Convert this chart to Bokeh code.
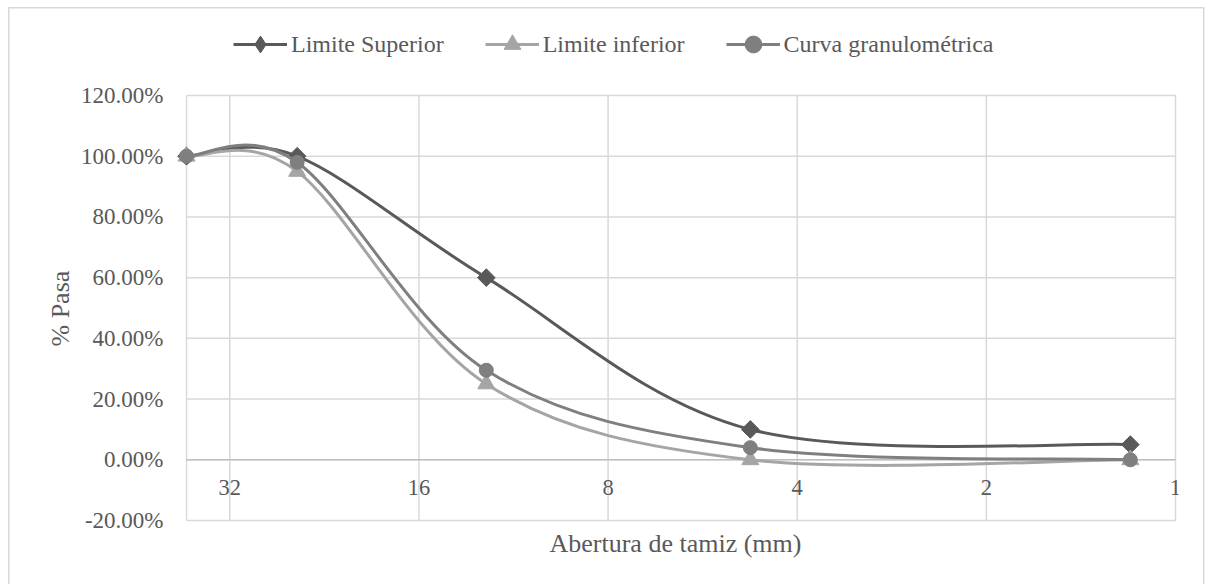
import numpy as np
from bokeh.plotting import figure
from bokeh.models import (Range1d, FixedTicker, NumeralTickFormatter, Legend, LegendItem,
                          ColumnDataSource, LabelSet, Title)
from bokeh.core.properties import value
from bokeh.embed import file_html
from bokeh.resources import INLINE

# ---------------- data ----------------
abertura = [37.5, 25.0, 12.5, 4.75, 1.18]          # mm
limite_superior = [1.00, 1.00, 0.60, 0.10, 0.05]
limite_inferior = [1.00, 0.95, 0.25, 0.00, 0.00]
curva_granulometrica = [1.00, 0.98, 0.295, 0.04, 0.00]
series_names = ["Limite Superior", "Limite inferior", "Curva granulométrica"]
x_ticks = [32, 16, 8, 4, 2, 1]
x_tick_labels = ["32", "16", "8", "4", "2", "1"]
y_ticks = [-0.2, 0.0, 0.2, 0.4, 0.6, 0.8, 1.0, 1.2]
x_title = "Abertura de tamiz (mm)"
y_title = "% Pasa"

# ---------------- style ----------------
FONT = "Liberation Serif"
TXT = "#595959"
GRID = "#d9d9d9"
colors = ["#595959", "#a5a5a5", "#7f7f7f"]

W, H = 1205, 584
OCT = 188.8  # px per octave
x_left_val, x_right_val = 37.5, 1.0
pad_l, pad_r, pad_b = 14, 3, 2
frame_left = 186 - pad_l
frame_right = 1175 + pad_r
frame_top = 20            # frame extended upward so the legend is drawn inside it
frame_bottom = 520 + pad_b
ppu = (520 - 95) / 1.4    # px per unit on the y axis

x_range = Range1d(x_left_val * 2 ** (pad_l / OCT), x_right_val / 2 ** (pad_r / OCT))
y_range = Range1d(-0.2 - pad_b / ppu, 1.2 + (95 - frame_top) / ppu)

p = figure(width=W, height=H, x_axis_type="log", x_range=x_range, y_range=y_range,
           output_backend="svg", toolbar_location=None,
           min_border_left=frame_left, min_border_right=W - frame_right,
           min_border_top=frame_top, min_border_bottom=H - frame_bottom)
p.outline_line_color = None
p.xgrid.visible = False
p.ygrid.visible = False
p.border_fill_alpha = 0
p.background_fill_alpha = 0

# outer chart border (Excel chart-area outline)
line = "linear-gradient(#d9d9d9,#d9d9d9)"
p.styles = {
    "background": (f"{line} 8px 7px / 1.5px 100% no-repeat, "
                   f"{line} 8px 7px / 1196px 1.5px no-repeat, "
                   f"{line} 1203px 7px / 1.5px 100% no-repeat, white")
}

# gridlines / plot-area border
y_lo, y_hi = y_ticks[0], y_ticks[-1]
p.segment(x0=[x_left_val] * len(y_ticks), x1=[x_right_val] * len(y_ticks),
          y0=y_ticks, y1=y_ticks, line_color=GRID, line_width=1.5)
vx = [x_left_val] + x_ticks
p.segment(x0=vx, x1=vx, y0=[y_lo] * len(vx), y1=[y_hi] * len(vx),
          line_color=GRID, line_width=1.5)
p.segment(x0=[x_left_val], x1=[x_right_val], y0=[0], y1=[0], line_color="#bfbfbf", line_width=1.5)


def smooth(xs, ys):
    lx = np.log10(np.array(xs, dtype=float))
    y = np.array(ys, dtype=float)
    n = len(lx)
    d = dict(x0=[], y0=[], x1=[], y1=[], cx0=[], cy0=[], cx1=[], cy1=[])
    for i in range(n - 1):
        a = max(i - 1, 0)
        b = min(i + 2, n - 1)
        d["x0"].append(10 ** lx[i]); d["y0"].append(y[i])
        d["x1"].append(10 ** lx[i + 1]); d["y1"].append(y[i + 1])
        d["cx0"].append(10 ** (lx[i] + (lx[i + 1] - lx[a]) / 6))
        d["cy0"].append(y[i] + (y[i + 1] - y[a]) / 6)
        d["cx1"].append(10 ** (lx[i + 1] - (lx[b] - lx[i]) / 6))
        d["cy1"].append(y[i + 1] - (y[b] - y[i]) / 6)
    return ColumnDataSource(d)


all_series = [limite_superior, limite_inferior, curva_granulometrica]
markers = [dict(marker="square", size=12.5, angle=np.pi / 4, legend_marker="diamond"),
           dict(marker="triangle", size=17, angle=0, legend_marker=None),
           dict(marker="circle", size=14, angle=0, legend_marker=None)]
items = []
for name, ys, col, mk in zip(series_names, all_series, colors, markers):
    br = p.bezier(x0="x0", y0="y0", x1="x1", y1="y1", cx0="cx0", cy0="cy0",
                  cx1="cx1", cy1="cy1", source=smooth(abertura, ys),
                  line_color=col, line_width=3)
    sr = p.scatter(x=abertura, y=ys, marker=mk["marker"], size=mk["size"], angle=mk["angle"],
                   fill_color=col, line_color=col, line_width=1)
    rends = [br, sr]
    if mk["legend_marker"]:
        # legend-only marker (legend markers are always drawn unrotated)
        lr = p.scatter(x=abertura, y=ys, marker=mk["legend_marker"], size=mk["size"],
                       fill_color=col, line_color=col, line_width=1, visible=False)
        rends = [br, lr]
    items.append(LegendItem(label=name, renderers=rends))

legend = Legend(items=items, orientation="horizontal",
                location=(233 - frame_left, frame_bottom - 65),
                padding=0, margin=0, spacing=41, glyph_width=54, glyph_height=42,
                label_height=42, label_standoff=4, border_line_color=None,
                background_fill_alpha=0, label_text_font=FONT, label_text_font_size="24px",
                label_text_color=TXT)
p.add_layout(legend, "center")

# y axis
p.yaxis.ticker = FixedTicker(ticks=y_ticks)
p.yaxis.formatter = NumeralTickFormatter(format="0.00%")
p.yaxis.axis_line_color = None
p.yaxis.major_tick_line_color = None
p.yaxis.minor_tick_line_color = None
p.yaxis.major_tick_out = 0
p.yaxis.major_label_standoff = 186 - 163 - pad_l
p.yaxis.major_label_text_font = FONT
p.yaxis.major_label_text_font_size = "23px"
p.yaxis.major_label_text_color = TXT

# y axis title, centred on the plot area (not on the extended frame)
p.add_layout(Title(text=y_title, align="left", offset=frame_bottom - 346,
                   text_font=FONT, text_font_size="26px", text_font_style="normal",
                   text_color=TXT, standoff=8), "left")

# x axis (title only; tick labels are placed under the zero line)
xa = p.below[0]
xa.ticker = FixedTicker(ticks=[], minor_ticks=[])
xa.axis_line_color = None
xa.major_tick_line_color = None
xa.minor_tick_line_color = None
xa.axis_label = x_title
xa.axis_label_text_font = FONT
xa.axis_label_text_font_size = "26px"
xa.axis_label_text_font_style = "normal"
xa.axis_label_text_color = TXT
xa.axis_label_standoff = 6

lab_src = ColumnDataSource(dict(x=x_ticks, y=[0.0] * len(x_ticks), text=x_tick_labels))
p.add_layout(LabelSet(x="x", y="y", text="text", source=lab_src, y_offset=-28,
                      text_align="center", text_baseline="middle",
                      text_font=value(FONT), text_font_size="22.5px", text_color=TXT))

open("out.html", "w").write(file_html(p, INLINE))
